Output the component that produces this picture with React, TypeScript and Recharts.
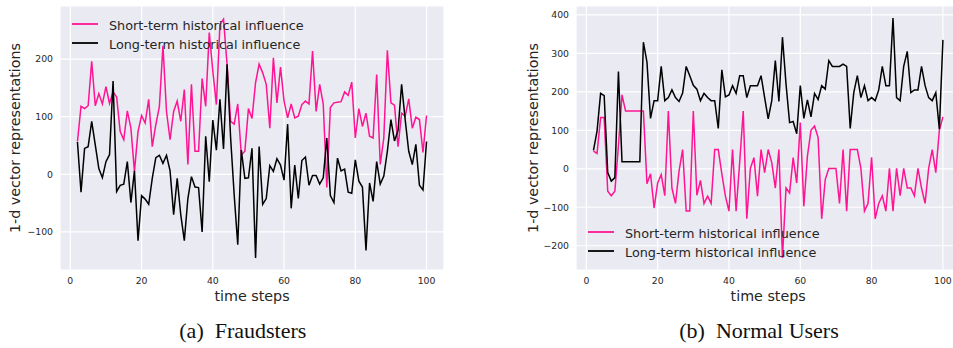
import { CartesianGrid, Legend, Line, LineChart, XAxis, YAxis } from "recharts";

// time steps run 2..100 in both panels
const steps = Array.from({ length: 99 }, (_, i) => i + 2);
const xTicks = [0, 20, 40, 60, 80, 100];
const fraudTicks = [-100, 0, 100, 200];
const normalTicks = [-200, -100, 0, 100, 200, 300, 400];

// (a) Fraudsters
const fraudShort = [
  57, 118, 114, 119, 196, 119, 140, 122, 152, 123, 143, 134, 74, 60, 110, 80, 5, 74, 102, 89,
  130, 48, 86, 118, 223, 109, 60, 109, 127, 92, 147, 17, 156, 40, 40, 166, 118, 246, 179, 121,
  260, 269, 191, 92, 87, 122, 34, 40, 114, 97, 159, 191, 176, 156, 80, 202, 124, 186, 127, 98,
  122, 98, 101, 121, 127, 122, 214, 109, 156, 122, -23, 116, 124, 125, 126, 143, 137, 160, 63, 114,
  83, 106, 66, 63, 173, 17, 63, 215, 124, 120, 48, 106, 101, 131, 80, 99, 95, 38, 102,
];
const fraudLong = [
  56, -31, 45, 48, 92, 51, 10, -6, 22, 34, 162, -30, -19, -17, 22, -49, 6, -115, -37, -43,
  -52, -7, 29, 33, 19, 33, 6, -70, -7, -70, -115, -42, -4, -22, -23, -100, 66, -13, 94, 42,
  130, 44, 191, 63, -36, -122, 42, -7, -6, 45, -145, 48, -52, -42, 15, 5, 27, 16, -10, 87,
  -59, 16, -42, 24, 30, -19, -2, -2, -17, -6, 63, -37, -49, 28, 6, 9, -31, -33, 25, -12,
  -22, -132, -15, -47, 22, -17, -3, 40, 95, 58, 76, 156, 95, 40, 17, 52, -19, -27, 57,
];

// (b) Normal Users
const normalShort = [
  46, 40, 133, 133, -58, -70, -58, 60, 192, 150, 150, 150, 150, 150, 150, -39, -13, -102, -37, -15,
  -70, 150, -50, -90, -6, 50, -110, -110, 150, -69, -30, -90, -71, -90, 50, 50, -13, -71, -110, 50,
  -110, 16, 150, -130, 1, 29, -71, 50, -10, 50, 16, -50, 50, -232, -50, -63, 29, -37, 120, -97,
  33, 100, 111, 81, -130, -28, 1, 1, 1, -90, 50, -110, 50, 50, 50, 1, -110, -90, 30, -130,
  -90, -70, -110, 1, -110, 1, -70, 1, -50, -50, -70, 1, -50, -90, 1, 50, -10, 100, 135,
];
const normalLong = [
  48, 98, 196, 190, -10, -32, -23, 253, 18, 18, 18, 18, 18, 18, 329, 277, 131, 177, 177, 266,
  177, 185, 205, 185, 175, 197, 266, 242, 217, 207, 177, 196, 185, 177, 177, 105, 257, 187, 192, 216,
  196, 242, 242, 185, 216, 216, 216, 242, 185, 130, 177, 281, 175, 342, 220, 120, 123, 91, 216, 131,
  179, 135, 196, 180, 216, 207, 281, 266, 266, 266, 272, 266, 105, 198, 242, 185, 216, 177, 185, 177,
  205, 266, 216, 216, 392, 185, 177, 266, 305, 198, 205, 205, 266, 216, 185, 177, 198, 103, 335,
];

const PINK = "#ff1493";
const BG = "#eaeaf2";
const TEXT = "#262626";
const FONT = "DejaVu Sans";

const toRows = (short: number[], long: number[]) =>
  steps.map((t, i) => ({ t, short: short[i], long: long[i] }));

const fmt = (v: number) => (v < 0 ? "\u2212" + Math.abs(v) : String(v));

const LegendBox = () => (
  <svg width={260} height={40} style={{ display: "block" }}>
    <line x1={0} x2={26} y1={9} y2={9} stroke={PINK} strokeWidth={1.8} />
    <text x={37} y={14.5} fontSize={12.8} fill={TEXT} fontFamily={FONT}>
      Short-term historical influence
    </text>
    <line x1={0} x2={26} y1={28} y2={28} stroke="#000" strokeWidth={1.8} />
    <text x={37} y={33.5} fontSize={12.8} fill={TEXT} fontFamily={FONT}>
      Long-term historical influence
    </text>
  </svg>
);

type PanelProps = {
  rows: { t: number; short: number; long: number }[];
  domain: [number, number];
  ticks: number[];
  left: number;
  width: number;
  right: number;
  legendTop: number;
  labelOffset: number;
};

const Panel = ({ rows, domain, ticks, left, width, right, legendTop, labelOffset }: PanelProps) => (
  <div style={{ position: "absolute", left, top: 0 }}>
    <LineChart
      width={width}
      height={310}
      data={rows}
      margin={{ top: 6, right, bottom: 10, left: 0 }}
    >
      <CartesianGrid fill={BG} stroke="#fff" strokeWidth={1.2} />
      <XAxis
        dataKey="t"
        type="number"
        domain={[-2.9, 104.9]}
        ticks={xTicks}
        allowDataOverflow
        height={30}
        tickLine={false}
        axisLine={false}
        tickSize={0}
        tickMargin={7}
        tick={{ fontSize: 9.3, fill: TEXT, fontFamily: FONT }}
        label={{
          value: "time steps",
          position: "bottom",
          offset: -9.5,
          fontSize: 14.3,
          fill: TEXT,
          fontFamily: FONT,
        }}
      />
      <YAxis
        type="number"
        domain={domain}
        ticks={ticks}
        allowDataOverflow
        width={60}
        tickLine={false}
        axisLine={false}
        tickSize={0}
        tickMargin={7}
        tickFormatter={fmt}
        tick={{ fontSize: 9.3, fill: TEXT, fontFamily: FONT }}
        label={{
          value: "1-d vector representations",
          angle: -90,
          position: "insideLeft",
          offset: labelOffset,
          style: { textAnchor: "middle" },
          fontSize: 14.3,
          fill: TEXT,
          fontFamily: FONT,
        }}
      />
      <Legend
        layout="horizontal"
        verticalAlign="middle"
        align="center"
        content={() => <LegendBox />}
        wrapperStyle={{ left: 71.5, top: legendTop, width: 260 }}
      />
      <Line
        dataKey="short"
        stroke={PINK}
        strokeWidth={1.5}
        dot={false}
        activeDot={false}
        isAnimationActive={false}
      />
      <Line
        dataKey="long"
        stroke="#000"
        strokeWidth={1.5}
        dot={false}
        activeDot={false}
        isAnimationActive={false}
      />
    </LineChart>
  </div>
);

export default function App() {
  return (
    <div
      style={{
        position: "fixed",
        left: 0,
        top: 0,
        width: 953,
        height: 348,
        overflow: "hidden",
        background: "#fff",
      }}
    >
      <Panel
        rows={toRows(fraudShort, fraudLong)}
        domain={[-166, 292]}
        ticks={fraudTicks}
        left={0}
        width={460}
        right={16}
        legendTop={15}
        labelOffset={15}
      />
      <Panel
        rows={toRows(normalShort, normalLong)}
        domain={[-263, 423]}
        ticks={normalTicks}
        left={516.4}
        width={444.4}
        right={0}
        legendTop={223.3}
        labelOffset={17}
      />
      <svg
        width={953}
        height={348}
        style={{ position: "absolute", left: 0, top: 0, pointerEvents: "none" }}
      >
        <text x={179.3} y={338} fontSize={22} fill="#111" fontFamily="Liberation Serif">
          (a){"\u2002"}Fraudsters
        </text>
        <text x={679.3} y={338} fontSize={22} fill="#111" fontFamily="Liberation Serif">
          (b){"\u2002"}Normal Users
        </text>
      </svg>
    </div>
  );
}
